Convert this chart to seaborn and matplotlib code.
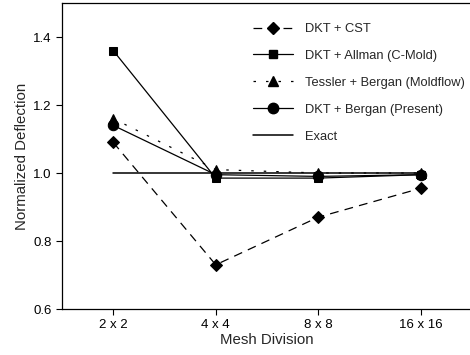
import matplotlib
matplotlib.use("Agg")
import matplotlib.pyplot as plt
from matplotlib.lines import Line2D
import seaborn as sns
import pandas as pd

meshes = ["2 x 2", "4 x 4", "8 x 8", "16 x 16"]
dkt_cst = [1.09, 0.73, 0.87, 0.955]
dkt_allman = [1.36, 0.985, 0.985, 0.995]
tessler_bergan = [1.16, 1.01, 1.0, 1.0]
dkt_bergan = [1.14, 0.995, 0.99, 0.995]
exact = [1.0, 1.0, 1.0, 1.0]

series = [
    ("DKT + CST", dkt_cst, "D", 6, (0, (7, 5))),
    ("DKT + Allman (C-Mold)", dkt_allman, "s", 5.5, "-"),
    ("Tessler + Bergan (Moldflow)", tessler_bergan, "^", 6.5, (0, (2, 8))),
    ("DKT + Bergan (Present)", dkt_bergan, "o", 7.5, "-"),
    ("Exact", exact, "", 0, "-"),
]

sns.set_theme(style="ticks")
plt.rcParams['font.family'] = ['Liberation Sans', 'DejaVu Sans']

fig = plt.figure(figsize=(4.7, 3.55), dpi=100)
ax = fig.add_axes([62/470, 1 - 309/355, (472 - 62)/470, (309 - 3)/355])

xpos = list(range(len(meshes)))
handles = []
for label, vals, marker, ms, ls in series:
    df = pd.DataFrame({"x": xpos, "y": vals})
    lw = 0.9 if marker else 1.1
    sns.lineplot(data=df, x="x", y="y", ax=ax, color="black",
                 linewidth=lw, linestyle=ls,
                 marker=marker if marker else None, markersize=ms,
                 markeredgecolor="black", markerfacecolor="black",
                 legend=False)
    handles.append(Line2D([], [], color="black", linewidth=lw, linestyle=ls,
                          marker=marker if marker else None, markersize=ms,
                          markeredgecolor="black", markerfacecolor="black",
                          label=label))

ax.set_xlim(-0.5, 3.5)
ax.set_ylim(0.6, 1.5)
ax.set_xticks(xpos)
ax.set_xticklabels(meshes, fontsize=9.5)
ax.set_yticks([0.6, 0.8, 1.0, 1.2, 1.4])
ax.set_yticklabels(["0.6", "0.8", "1.0", "1.2", "1.4"], fontsize=9.5)
ax.tick_params(direction="out", length=4, width=0.8, colors="black")
ax.set_xlabel("Mesh Division", fontsize=10.8, labelpad=1)
ax.set_ylabel("Normalized Deflection", fontsize=10.8, labelpad=3)
for s in ax.spines.values():
    s.set_linewidth(0.9)
    s.set_color("black")

ax.legend(handles=handles, loc="upper left",
          bbox_to_anchor=(253/470, 1 - 23/355), bbox_transform=fig.transFigure,
          frameon=False, fontsize=9.3, handlelength=3.1, labelspacing=1.15,
          handletextpad=0.93, borderpad=0, borderaxespad=0)

fig.savefig("out.png", dpi=100)
